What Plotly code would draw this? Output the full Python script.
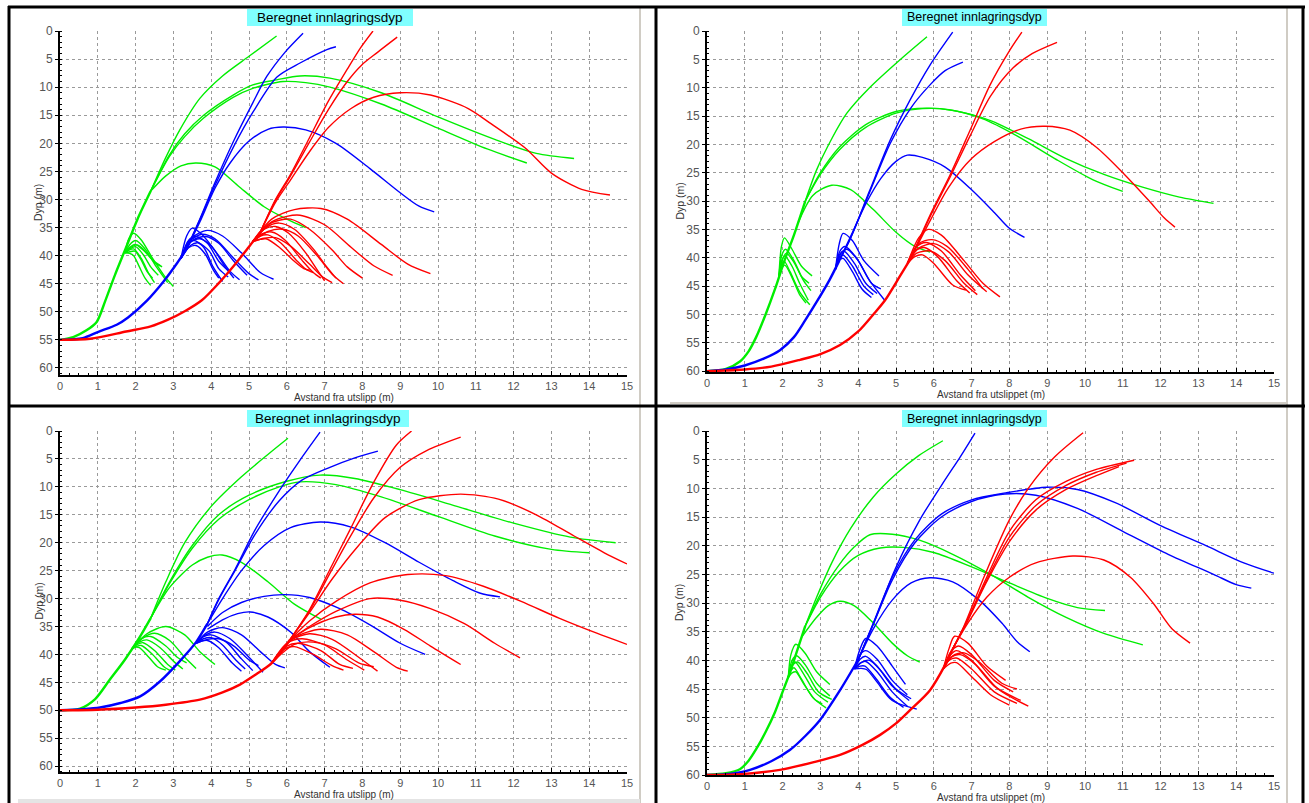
import plotly.graph_objects as go

W, H = 1309, 803
GREEN = "#00EE00"
BLUE = "#0000FF"
RED = "#FF0000"

# ---------------- TOP-LEFT panel data (x: m, y: depth m) ----------------
TL_GREEN_TRUNK = [(0, 55), (0.35, 54.5), (0.7, 53.3), (0.97, 51.8), (1.2, 48), (1.45, 43.5), (1.75, 38.5), (2.05, 33.5), (2.4, 28.5)]
TL_GREEN_BRANCHES = [
    [(2.4, 28.5), (2.8, 22.5), (3.17, 17.6), (3.7, 12.0), (4.3, 8.0), (5.0, 4.5), (5.73, 0.9)],
    [(2.4, 28.5), (2.9, 22), (3.3, 18.3), (3.8, 15), (4.58, 11.4), (5.1, 9.6), (5.73, 8.7), (6.35, 8.0), (7.14, 8.4), (8.5, 11), (10.0, 15.3), (11.5, 19.3), (12.6, 21.8), (13.6, 22.7)],
    [(2.4, 28.5), (2.9, 22.3), (3.3, 18.8), (3.8, 15.5), (4.58, 11.8), (5.1, 10.2), (5.9, 9.0), (6.5, 9.2), (7.14, 10.0), (8.5, 13), (10.0, 17.3), (11.3, 21), (12.35, 23.5)],
    [(2.4, 28.5), (2.8, 25.8), (3.2, 24.0), (3.6, 23.5), (4.1, 24.2), (4.7, 27.5), (5.4, 31.3), (6.0, 33.5), (6.5, 35.0)],
    [(1.72, 39.5), (1.82, 37), (1.95, 36.0), (2.15, 37.2), (2.45, 40.5), (2.75, 43.5), (3.0, 45.5)],
    [(1.72, 39.5), (1.85, 38), (2.0, 37.3), (2.25, 38.8), (2.55, 42), (2.85, 44.8)],
    [(1.72, 39.5), (1.85, 38.5), (1.98, 38.0), (2.2, 39), (2.45, 40.8), (2.7, 42.0)],
    [(1.72, 39.5), (1.85, 38.8), (2.0, 38.4), (2.2, 39.8), (2.4, 42), (2.6, 43.5)],
    [(1.72, 39.5), (1.83, 39), (1.95, 38.8), (2.15, 40.5), (2.35, 43.2), (2.5, 44.8)],
    [(1.72, 39.5), (1.85, 39.3), (1.98, 39.2), (2.15, 40.8), (2.3, 42.8), (2.45, 44.0)],
    [(1.72, 39.5), (1.84, 39.6), (1.95, 40), (2.1, 42), (2.25, 44), (2.4, 45.3)],
    [(1.72, 39.5), (1.9, 38.4), (2.05, 38.1), (2.3, 39.5), (2.5, 41.2), (2.65, 41.8)],
]
TL_BLUE_TRUNK = [(0, 55), (0.6, 54.7), (1.0, 53.6), (1.5, 52.3), (1.8, 51.0), (2.3, 48.0), (2.75, 44.5), (3.1, 41.3), (3.35, 38.8)]
TL_BLUE_BRANCHES = [
    [(3.35, 38.8), (3.7, 33.5), (4.1, 27), (4.6, 19.5), (5.1, 12.8), (5.47, 8.1), (5.95, 3.8), (6.43, 0.4)],
    [(3.35, 38.8), (3.7, 33.6), (4.1, 27.5), (4.6, 20.5), (5.1, 14.5), (5.74, 8.2), (6.35, 5.7), (7.06, 3.3), (7.3, 2.8)],
    [(3.35, 38.8), (3.7, 34), (4.1, 28), (4.5, 23.5), (5.0, 19.6), (5.5, 17.5), (5.9, 17.1), (6.5, 17.6), (7.3, 20), (8.2, 24.5), (9.0, 28.8), (9.5, 31.2), (9.9, 32.2)],
    [(3.2, 40.5), (3.35, 36.5), (3.5, 35.1), (3.75, 36.2), (4.2, 40), (4.5, 42.8), (4.75, 44.3)],
    [(3.2, 40.5), (3.45, 37), (3.9, 35.5), (4.3, 36.5), (4.8, 39.5), (5.3, 43), (5.65, 44.2)],
    [(3.2, 40.5), (3.45, 37.3), (3.75, 36.2), (4.1, 37), (4.6, 40.5), (5.0, 43.2), (5.25, 44.3)],
    [(3.2, 40.5), (3.4, 37.3), (3.6, 36.6), (3.9, 37.8), (4.2, 41), (4.5, 43.0)],
    [(3.2, 40.5), (3.45, 37.6), (3.7, 37.0), (4.0, 38.3), (4.35, 41.8), (4.6, 44.0)],
    [(3.2, 40.5), (3.38, 38), (3.55, 37.3), (3.8, 38.5), (4.05, 42), (4.3, 44.6)],
    [(3.2, 40.5), (3.45, 38.2), (3.65, 37.7), (3.95, 39.2), (4.2, 42.3), (4.45, 43.8)],
    [(3.2, 40.5), (3.4, 38.6), (3.6, 38.2), (3.85, 39.8), (4.05, 42.5), (4.2, 44.0)],
    [(3.2, 40.5), (3.5, 37.3), (3.85, 36.6), (4.2, 37.8), (4.6, 41), (4.95, 43.5)],
]
TL_RED_TRUNK = [(0, 55), (0.8, 54.8), (1.75, 53.5), (2.4, 52.6), (2.86, 51.4), (3.3, 49.9), (3.76, 47.9), (4.2, 44.9), (4.6, 41.8), (5.0, 38.4), (5.3, 35.8)]
TL_RED_BRANCHES = [
    [(5.3, 35.8), (5.7, 30), (6.1, 25.5), (6.6, 19), (7.1, 12.5), (7.6, 6.8), (7.95, 3), (8.28, 0)],
    [(5.3, 35.8), (5.7, 30.2), (6.1, 25.8), (6.6, 19.8), (7.1, 14), (7.6, 9), (7.99, 6.0), (8.4, 3.8), (8.92, 1.1)],
    [(5.3, 35.8), (5.7, 30.5), (6.1, 26.5), (6.6, 21.5), (7.1, 17.2), (7.7, 13.8), (8.3, 11.8), (9.0, 11.0), (9.8, 11.4), (10.8, 13.8), (11.4, 16.5), (12.3, 20.8), (13.0, 25.3), (13.8, 28.2), (14.55, 29.2)],
    [(5.1, 37.5), (5.6, 33.5), (6.2, 31.8), (6.9, 31.6), (7.6, 33.5), (8.5, 38), (9.2, 41.5), (9.8, 43.2)],
    [(5.1, 37.5), (5.6, 34), (6.0, 33), (6.35, 32.8), (7.0, 34.5), (7.7, 38.5), (8.3, 41.8), (8.8, 43.5)],
    [(5.1, 37.5), (5.5, 34.5), (5.8, 33.7), (6.1, 33.5), (6.6, 35.3), (7.2, 39), (7.6, 42), (8.0, 44.0)],
    [(5.1, 37.5), (5.45, 35), (5.8, 34.2), (6.2, 35.3), (6.7, 38.8), (7.0, 41.5), (7.3, 44.0)],
    [(5.1, 37.5), (5.4, 35.3), (5.7, 34.8), (6.05, 36), (6.5, 39.5), (6.8, 42.5), (7.0, 44.5)],
    [(5.1, 37.5), (5.5, 35.7), (5.9, 35.3), (6.3, 36.5), (6.8, 40), (7.2, 43.3), (7.5, 45.0)],
    [(5.1, 37.5), (5.35, 36.1), (5.6, 35.8), (5.95, 37.2), (6.4, 40.8), (6.7, 43), (6.9, 44.0)],
    [(5.1, 37.5), (5.3, 36.5), (5.5, 36.3), (5.85, 37.8), (6.25, 40.8), (6.5, 42.4), (6.7, 43.0)],
    [(5.1, 37.5), (5.4, 36.9), (5.7, 36.8), (6.1, 38.3), (6.6, 41.5), (6.95, 43.8), (7.2, 44.8)],
    [(5.1, 37.5), (5.3, 37.1), (5.45, 37.0), (5.8, 38.5), (6.2, 41), (6.45, 42.3), (6.6, 42.6)],
]

# ---------------- TOP-RIGHT panel data ----------------
TR_GREEN_TRUNK = [(0, 60), (0.5, 59.6), (0.87, 58.3), (1.1, 56.5), (1.3, 54), (1.55, 50), (1.8, 45.5), (2.05, 40.5), (2.3, 36), (2.6, 30)]
TR_GREEN_BRANCHES = [
    [(2.6, 30), (2.9, 24.5), (3.3, 19), (3.7, 14.5), (4.3, 10), (5.1, 5.1), (5.82, 1.0)],
    [(2.6, 30), (3.0, 25), (3.5, 20.5), (4.2, 16.5), (5.0, 14.2), (5.8, 13.6), (6.5, 14), (7.5, 15.8), (8.5, 19), (9.5, 22.5), (10.5, 25.3), (11.5, 27.5), (12.5, 29.3), (13.4, 30.4)],
    [(2.6, 30), (3.0, 25.3), (3.5, 21), (4.2, 17), (5.0, 14.5), (5.7, 13.7), (6.4, 13.9), (7.3, 15.5), (8.2, 18.5), (9.2, 22.5), (10.2, 26.2), (11.0, 28.3)],
    [(2.4, 34), (2.8, 29), (3.3, 27.2), (3.8, 28), (4.4, 31.5), (5.0, 35.5), (5.5, 38), (5.9, 39.0)],
    [(1.9, 43.5), (1.97, 38), (2.05, 36.5), (2.25, 38.5), (2.5, 41.5), (2.78, 43.2)],
    [(1.9, 43.5), (1.98, 39.5), (2.08, 38.5), (2.3, 40.5), (2.55, 44), (2.75, 45.8)],
    [(1.9, 43.5), (1.98, 40.5), (2.06, 39.7), (2.25, 41.5), (2.45, 44.5), (2.68, 47.5)],
    [(1.9, 43.5), (1.97, 41.3), (2.04, 40.6), (2.2, 42.5), (2.45, 46), (2.72, 48.3)],
    [(1.9, 43.5), (1.98, 41.8), (2.06, 41.3), (2.25, 43.5), (2.45, 46.5), (2.62, 48.0)],
    [(1.9, 43.5), (2.0, 40.2), (2.1, 39.2), (2.3, 40.8), (2.5, 43.3), (2.7, 44.5)],
]
TR_BLUE_TRUNK = [(0, 60), (0.5, 59.7), (1.0, 59.0), (1.5, 57.8), (1.93, 56.3), (2.3, 54), (2.6, 51), (2.9, 47.8), (3.25, 43.8), (3.5, 40.5)]
TR_BLUE_BRANCHES = [
    [(3.5, 40.5), (3.8, 36.5), (4.3, 28.2), (4.85, 19.2), (5.37, 12.2), (5.9, 6.0), (6.5, 0.2)],
    [(3.5, 40.5), (3.8, 36.5), (4.3, 28.5), (4.85, 19.8), (5.4, 13.5), (5.9, 9.5), (6.3, 7.0), (6.77, 5.5)],
    [(3.5, 40.5), (3.85, 35.5), (4.2, 30.5), (4.6, 26), (5.0, 23), (5.3, 21.9), (5.7, 22.3), (6.3, 24), (7.0, 28), (7.6, 32), (8.0, 34.8), (8.4, 36.4)],
    [(3.4, 42), (3.5, 37.5), (3.6, 35.7), (3.85, 37), (4.15, 40.5), (4.55, 43.2)],
    [(3.4, 42), (3.52, 38.8), (3.65, 38.0), (3.95, 40), (4.3, 44), (4.7, 47.5)],
    [(3.4, 42), (3.5, 39.5), (3.62, 38.8), (3.9, 41), (4.2, 44.5), (4.5, 46.3)],
    [(3.4, 42), (3.5, 40), (3.6, 39.5), (3.85, 41.5), (4.15, 45), (4.4, 46.5)],
    [(3.4, 42), (3.55, 39.2), (3.7, 38.5), (4.0, 40.5), (4.35, 44.5), (4.6, 45.5)],
    [(3.4, 42), (3.5, 40.5), (3.6, 40.1), (3.85, 42.5), (4.1, 45.5), (4.35, 47.0)],
]
TR_RED_TRUNK = [(0, 60), (1.0, 59.7), (1.7, 59.2), (2.46, 58), (3.0, 57), (3.52, 55.4), (4.0, 53), (4.4, 50), (4.71, 47.5), (5.1, 43.3), (5.4, 40)]
TR_RED_BRANCHES = [
    [(5.4, 40), (5.9, 32.5), (6.43, 25.4), (6.96, 17.5), (7.49, 9.5), (8.0, 3.5), (8.33, 0.2)],
    [(5.4, 40), (5.9, 32.8), (6.43, 25.8), (6.96, 18.5), (7.5, 11.5), (8.1, 6.5), (8.6, 4.0), (9.26, 2.0)],
    [(5.4, 40), (5.9, 33.5), (6.4, 27.5), (7.0, 22.5), (7.6, 19.5), (8.3, 17.3), (8.94, 16.8), (9.6, 17.5), (10.3, 20.5), (11.0, 25), (11.7, 30), (12.1, 33), (12.38, 34.6)],
    [(5.3, 41), (5.6, 36.5), (5.85, 35.0), (6.2, 36), (6.8, 40.5), (7.3, 44.5), (7.75, 46.9)],
    [(5.3, 41), (5.6, 37.5), (5.95, 36.8), (6.35, 38), (6.9, 42), (7.3, 45.5)],
    [(5.3, 41), (5.55, 38), (5.8, 37.3), (6.2, 38.8), (6.7, 43), (7.1, 45.8)],
    [(5.3, 41), (5.6, 38.3), (6.0, 37.5), (6.4, 39), (6.9, 43), (7.4, 46.0)],
    [(5.3, 41), (5.5, 38.8), (5.75, 38.2), (6.1, 39.8), (6.6, 44), (6.95, 46.2)],
    [(5.3, 41), (5.55, 39.2), (5.9, 38.8), (6.3, 40.5), (6.8, 44.5), (7.15, 46.5)],
    [(5.3, 41), (5.5, 39.8), (5.7, 39.5), (6.0, 41), (6.5, 44.8), (6.85, 45.7)],
]

# ---------------- BOTTOM-LEFT panel data ----------------
BL_GREEN_TRUNK = [(0, 50), (0.53, 49.7), (0.93, 48), (1.32, 44.5), (1.72, 40.9), (2.1, 37), (2.4, 33.5)]
BL_GREEN_BRANCHES = [
    [(2.4, 33.5), (2.8, 27), (3.3, 20), (4.0, 13.5), (4.8, 8.2), (5.5, 4.2), (6.03, 1.3)],
    [(2.4, 33.5), (2.9, 27), (3.5, 20.5), (4.2, 15), (5.0, 11.5), (6.0, 9), (6.88, 7.9), (7.8, 8.5), (9.0, 10.5), (10.5, 13.5), (12, 16.5), (13.5, 19), (14.7, 20.0)],
    [(2.4, 33.5), (2.9, 27.3), (3.5, 21), (4.2, 15.8), (5.0, 12.3), (5.8, 10), (6.35, 9.1), (7.3, 9.6), (8.5, 11.8), (10, 15.3), (11.5, 18.8), (13, 21.2), (14.0, 21.8)],
    [(2.4, 33.5), (2.9, 28), (3.5, 24), (3.9, 22.6), (4.29, 22.2), (4.8, 23.5), (5.5, 27), (6.2, 31), (6.9, 33.7)],
    [(1.9, 39), (2.3, 36.3), (2.8, 35.0), (3.3, 36.5), (3.7, 39.5), (4.1, 41.8)],
    [(1.9, 39), (2.2, 37), (2.5, 36.2), (2.9, 37.5), (3.3, 40.5), (3.6, 42.5)],
    [(1.9, 39), (2.1, 37.8), (2.3, 37.4), (2.65, 38.8), (3.0, 41.2), (3.25, 42.6)],
    [(1.9, 39), (2.05, 38.2), (2.2, 37.9), (2.5, 39.3), (2.85, 41.8), (3.05, 42.8)],
    [(1.9, 39), (2.05, 38.5), (2.15, 38.4), (2.45, 40), (2.75, 42.2), (2.95, 43.0)],
    [(1.9, 39), (2.0, 38.7), (2.1, 38.8), (2.35, 40.5), (2.6, 42.3), (2.8, 42.8)],
    [(1.9, 39), (2.15, 37.2), (2.4, 36.8), (2.8, 38.5), (3.1, 40.5), (3.35, 41.5)],
]
BL_BLUE_TRUNK = [(0, 50), (0.6, 49.8), (1.06, 49.5), (1.6, 48.7), (2.12, 47.5), (2.65, 44.8), (3.17, 41.2), (3.6, 37.8), (3.9, 34.5)]
BL_BLUE_BRANCHES = [
    [(3.9, 34.5), (4.2, 30), (4.63, 24.8), (5.16, 17.7), (5.82, 10.5), (6.35, 5.2), (6.88, 0.2)],
    [(3.9, 34.5), (4.2, 30.2), (4.63, 25), (5.16, 18.5), (5.8, 12.5), (6.4, 8.8), (7.14, 6.5), (7.8, 4.8), (8.41, 3.6)],
    [(3.9, 34.5), (4.3, 30), (4.8, 25), (5.4, 20.5), (6.1, 17.3), (6.88, 16.3), (7.7, 17.2), (8.6, 20), (9.5, 23.5), (10.4, 26.8), (11.1, 29), (11.64, 29.7)],
    [(3.9, 35), (4.3, 32.5), (4.8, 30.7), (5.4, 29.6), (5.95, 29.3), (6.6, 29.8), (7.4, 31.8), (8.2, 34.7), (9.0, 38), (9.66, 40.0)],
    [(3.9, 35.5), (4.3, 33.8), (4.7, 32.7), (5.03, 32.4), (5.5, 33.3), (6.1, 36), (6.6, 39.5), (7.14, 42.3)],
    [(3.6, 38), (3.9, 36), (4.3, 35.2), (4.8, 36.5), (5.3, 39.5), (5.7, 41.8), (5.95, 42.4)],
    [(3.6, 38), (3.85, 36.5), (4.1, 36.0), (4.5, 37.2), (5.0, 40.5), (5.37, 43.2)],
    [(3.6, 38), (3.8, 36.8), (4.0, 36.5), (4.4, 37.8), (4.8, 40.8), (5.1, 42.9)],
    [(3.6, 38), (3.8, 37.2), (4.0, 37.0), (4.3, 38.3), (4.65, 41), (4.9, 42.6)],
    [(3.6, 38), (3.75, 37.6), (3.9, 37.5), (4.2, 38.8), (4.55, 41.5), (4.8, 43.0)],
    [(3.6, 38), (3.9, 37.3), (4.2, 37.2), (4.6, 38.5), (5.0, 41), (5.25, 42.0)],
]
BL_RED_TRUNK = [(0, 50), (1.0, 49.9), (2.0, 49.5), (2.8, 49.0), (3.7, 48.1), (4.3, 46.8), (4.76, 45.4), (5.2, 43.5), (5.56, 41.8), (5.8, 40), (6.08, 37.4)]
BL_RED_BRANCHES = [
    [(6.08, 37.4), (6.6, 32), (7.14, 24.8), (7.67, 17.7), (8.33, 8.8), (8.9, 2.5), (9.3, 0)],
    [(6.08, 37.4), (6.6, 32.2), (7.14, 25.5), (7.67, 19), (8.3, 12), (9.0, 6.5), (9.7, 3.5), (10.6, 1.1)],
    [(6.08, 37.4), (6.6, 32.5), (7.2, 26.5), (7.9, 20.5), (8.6, 15.5), (9.5, 12.3), (10.6, 11.3), (11.6, 12.2), (12.6, 15), (13.6, 18.8), (14.4, 21.8), (15, 23.8)],
    [(6.08, 37.4), (6.6, 34), (7.3, 30.5), (8.2, 27.2), (9.2, 25.7), (10.2, 25.9), (11.2, 27.8), (12.2, 30.5), (13.2, 33.5), (14.2, 36.2), (15, 38.2)],
    [(6.08, 37.4), (6.6, 35), (7.3, 32.3), (8.2, 30.0), (9.0, 30.3), (9.8, 31.8), (10.7, 34.5), (11.5, 38), (12.17, 40.6)],
    [(6.08, 37.4), (6.6, 35.2), (7.3, 33.3), (7.8, 32.8), (8.4, 33.3), (9.1, 35.5), (9.8, 38.5), (10.6, 41.8)],
    [(5.6, 41.5), (6.2, 37), (6.9, 35.5), (7.6, 36.5), (8.3, 39.5), (8.9, 42.3), (9.2, 43.0)],
    [(5.6, 41.5), (6.1, 37.5), (6.6, 36.3), (7.2, 37.3), (7.9, 40.5), (8.4, 43.0)],
    [(5.6, 41.5), (6.0, 38), (6.4, 37.2), (7.0, 38.3), (7.6, 41), (8.05, 42.8)],
    [(5.6, 41.5), (6.0, 38.5), (6.3, 38), (6.9, 39.3), (7.4, 41.8), (7.75, 42.5)],
    [(5.6, 41.5), (6.2, 38.2), (6.7, 37.8), (7.3, 39), (7.9, 41.5), (8.3, 42.2)],
    [(5.6, 41.5), (5.95, 39), (6.2, 38.6), (6.7, 40), (7.2, 42), (7.5, 42.8)],
]

# ---------------- BOTTOM-RIGHT panel data ----------------
BR_GREEN_TRUNK = [(0, 60), (0.5, 59.7), (0.87, 59.0), (1.1, 57.5), (1.3, 55.5), (1.55, 52.5), (1.8, 49), (2.0, 45.5), (2.2, 42), (2.4, 38), (2.6, 34)]
BR_GREEN_BRANCHES = [
    [(2.6, 34), (2.9, 29), (3.3, 23), (3.8, 17), (4.4, 11.5), (5.0, 7.5), (5.6, 4.3), (6.24, 1.7)],
    [(2.6, 34), (3.0, 28.5), (3.5, 23.3), (3.9, 20.2), (4.31, 18.1), (4.9, 18), (5.6, 19), (6.5, 21.5), (7.5, 25), (8.5, 29), (9.5, 32.5), (10.5, 35.3), (11.53, 37.3)],
    [(2.6, 34), (3.0, 29), (3.5, 24.5), (4.0, 21.7), (4.58, 20.4), (5.2, 20.3), (6.0, 21.2), (7.0, 23.7), (8.0, 26.5), (9.0, 29.2), (9.8, 30.8), (10.53, 31.3)],
    [(2.5, 36), (2.9, 32.5), (3.2, 30.5), (3.52, 29.7), (3.9, 30.5), (4.4, 33.5), (4.9, 37), (5.3, 39.2), (5.63, 40.3)],
    [(2.15, 43), (2.22, 39), (2.35, 37.2), (2.6, 38.8), (2.9, 42), (3.25, 44.2)],
    [(2.15, 43), (2.25, 40), (2.37, 39.2), (2.6, 40.8), (2.9, 44), (3.25, 46.2)],
    [(2.15, 43), (2.23, 41), (2.33, 40.3), (2.55, 42.3), (2.85, 45.5), (3.2, 47.3)],
    [(2.15, 43), (2.22, 41.8), (2.3, 41.3), (2.5, 43.3), (2.8, 46.5), (3.15, 48.3)],
    [(2.15, 43), (2.25, 42.2), (2.35, 42), (2.55, 44), (2.85, 46.8), (3.05, 47.6)],
    [(2.15, 43), (2.27, 40.8), (2.4, 40.3), (2.65, 42.3), (2.95, 45.5), (3.3, 46.8)],
]
BR_BLUE_TRUNK = [(0, 60), (0.6, 59.8), (1.14, 59.1), (1.7, 57.6), (2.2, 55.6), (2.6, 53.2), (2.99, 50.4), (3.52, 45.2), (4.0, 39.9)]
BR_BLUE_BRANCHES = [
    [(4.0, 39.9), (4.44, 33), (4.97, 24.2), (5.63, 15.5), (6.3, 8.5), (6.7, 4.5), (7.09, 0.35)],
    [(4.0, 39.9), (4.4, 33.5), (4.9, 25.5), (5.5, 19), (6.2, 14.5), (7.0, 12), (7.9, 10.8), (8.99, 9.8), (9.8, 10.2), (10.8, 12.5), (12, 16.5), (13.2, 20), (14.2, 23), (15, 24.8)],
    [(4.0, 39.9), (4.4, 33.7), (4.9, 26), (5.5, 19.5), (6.2, 15), (7.0, 12.3), (7.88, 11), (8.7, 11.2), (9.8, 13.5), (11, 17.5), (12.2, 21.5), (13.4, 25), (14.0, 26.8), (14.4, 27.4)],
    [(4.0, 39.9), (4.4, 34.5), (4.9, 29.5), (5.4, 26.5), (5.9, 25.6), (6.5, 26.3), (7.2, 29.5), (7.8, 33.5), (8.2, 36.7), (8.54, 38.5)],
    [(3.9, 41.5), (4.05, 38), (4.2, 36.2), (4.5, 37.5), (4.9, 41), (5.25, 44.2)],
    [(3.9, 41.5), (4.05, 39), (4.2, 38.3), (4.5, 39.8), (4.9, 43.5), (5.3, 46.0)],
    [(3.9, 41.5), (4.05, 39.8), (4.2, 39.3), (4.5, 41), (4.9, 44.5), (5.35, 47.0)],
    [(3.9, 41.5), (4.05, 40.5), (4.2, 40.2), (4.5, 42), (4.9, 45.5), (5.3, 48.0)],
    [(3.9, 41.5), (4.05, 41), (4.18, 41), (4.45, 43), (4.85, 46.5), (5.2, 48.2)],
    [(3.9, 41.5), (4.1, 40.3), (4.3, 40), (4.6, 41.8), (5.0, 45), (5.4, 46.7)],
    [(3.9, 41.5), (4.08, 41.4), (4.22, 41.6), (4.5, 43.8), (4.9, 47), (5.55, 48.5)],
]
BR_RED_TRUNK = [(0, 60), (1.0, 59.8), (1.93, 59.1), (2.8, 57.8), (3.52, 56.5), (4.1, 54.8), (4.58, 53), (5.0, 51), (5.37, 48.7), (5.9, 45.2), (6.3, 40.8), (6.5, 38)]
BR_RED_BRANCHES = [
    [(6.5, 38), (6.8, 34), (7.35, 25.1), (8.0, 15.5), (8.5, 10), (9.2, 4.5), (9.95, 0.3)],
    [(6.5, 38), (6.85, 33.5), (7.4, 25.5), (8.0, 17.5), (8.7, 12), (9.5, 8.8), (10.3, 6.7), (11.3, 5.1)],
    [(6.5, 38), (6.85, 33.6), (7.4, 26), (8.0, 18.5), (8.7, 13), (9.5, 9.5), (10.3, 7.2), (11.1, 5.6)],
    [(6.5, 38), (6.85, 33.7), (7.4, 26.3), (8.0, 19.3), (8.7, 13.8), (9.5, 10.2), (10.3, 7.8), (10.9, 6.2)],
    [(6.5, 38), (6.9, 33.5), (7.4, 29), (8.0, 25.5), (8.7, 23), (9.68, 21.8), (10.5, 22.5), (11.2, 25.5), (11.8, 30), (12.3, 34.5), (12.78, 37)],
    [(6.25, 41.5), (6.4, 38), (6.55, 35.8), (6.9, 37), (7.4, 41), (7.9, 43.5)],
    [(6.25, 41.5), (6.45, 38.5), (6.65, 37.5), (7.0, 39), (7.6, 43.5), (8.1, 45.5)],
    [(6.25, 41.5), (6.45, 39), (6.6, 38.3), (7.0, 40), (7.6, 44.5), (8.3, 47.0)],
    [(6.25, 41.5), (6.45, 39.5), (6.7, 39.0), (7.1, 40.7), (7.7, 45), (8.5, 48.0)],
    [(6.25, 41.5), (6.4, 40), (6.6, 39.6), (7.0, 41.5), (7.6, 45.5), (8.2, 47.5)],
    [(6.25, 41.5), (6.5, 39.2), (6.8, 38.7), (7.2, 40.3), (7.8, 44), (8.2, 45.0)],
    [(6.25, 41.5), (6.45, 40.5), (6.6, 40.4), (6.95, 42.5), (7.5, 46), (8.0, 47.8)],
]

TITLE = "Beregnet innlagringsdyp"
XTITLE_LEFT = "Avstand fra utslipp (m)"
XTITLE_RIGHT = "Avstand fra utslippet (m)"
YTITLE = "Dyp (m)"
X_RANGE = (0, 15)

# panel layout (pixel geometry)
PANELS = [
    dict(px=(60, 627), py=(31, 375), ymax=61.25, xt=XTITLE_LEFT, box=(247, 9, 413, 26), tfs=13.5, ytx=38,
         data=[(GREEN, TL_GREEN_TRUNK, TL_GREEN_BRANCHES), (BLUE, TL_BLUE_TRUNK, TL_BLUE_BRANCHES), (RED, TL_RED_TRUNK, TL_RED_BRANCHES)]),
    dict(px=(707, 1274), py=(31, 372), ymax=60.15, xt=XTITLE_RIGHT, box=(902, 9, 1047, 26), tfs=12.5, ytx=679,
         data=[(GREEN, TR_GREEN_TRUNK, TR_GREEN_BRANCHES), (BLUE, TR_BLUE_TRUNK, TR_BLUE_BRANCHES), (RED, TR_RED_TRUNK, TR_RED_BRANCHES)]),
    dict(px=(60, 627), py=(431, 772), ymax=61.05, xt=XTITLE_LEFT, box=(247, 410, 409, 427), tfs=13.5, ytx=38,
         data=[(GREEN, BL_GREEN_TRUNK, BL_GREEN_BRANCHES), (BLUE, BL_BLUE_TRUNK, BL_BLUE_BRANCHES), (RED, BL_RED_TRUNK, BL_RED_BRANCHES)]),
    dict(px=(707, 1274), py=(431, 775), ymax=60.0, xt=XTITLE_RIGHT, box=(902, 410, 1047, 427), tfs=12.5, ytx=679,
         data=[(GREEN, BR_GREEN_TRUNK, BR_GREEN_BRANCHES), (BLUE, BR_BLUE_TRUNK, BR_BLUE_BRANCHES), (RED, BR_RED_TRUNK, BR_RED_BRANCHES)]),
]

FONT = "Liberation Sans, Arial, sans-serif"


def fx(p):
    return p / W


def fy(p):
    return 1 - p / H


fig = go.Figure()
layout = dict(width=W, height=H, margin=dict(l=0, r=0, t=0, b=0, pad=0), autosize=False,
              paper_bgcolor="white", plot_bgcolor="white", showlegend=False, template="none",
              font=dict(family=FONT, size=12, color="#555555"))
shapes = []
annotations = []

for i, p in enumerate(PANELS, start=1):
    xa = "x" if i == 1 else f"x{i}"
    ya = "y" if i == 1 else f"y{i}"
    for color, trunk, branches in p["data"]:
        fig.add_trace(go.Scatter(x=[q[0] for q in trunk], y=[q[1] for q in trunk], mode="lines",
                                 line=dict(color=color, width=2.4, shape="spline", smoothing=0.8),
                                 xaxis=xa, yaxis=ya, hoverinfo="skip"))
        for b in branches:
            fig.add_trace(go.Scatter(x=[q[0] for q in b], y=[q[1] for q in b], mode="lines",
                                     line=dict(color=color, width=1.4, shape="spline", smoothing=0.8),
                                     xaxis=xa, yaxis=ya, hoverinfo="skip"))
    common = dict(showgrid=True, gridcolor="#9A9A9A", griddash="dot", gridwidth=1, automargin=False,
                  showline=True, linecolor="black", linewidth=2,
                  tickcolor="black", zeroline=False)
    layout["xaxis" + ("" if i == 1 else str(i))] = dict(
        domain=[fx(p["px"][0]), fx(p["px"][1])], range=list(X_RANGE), dtick=1, tick0=0,
        anchor=ya, ticks="inside", ticklen=4,
        tickfont=dict(family=FONT, size=11, color="#555555"),
        minor=dict(dtick=0.25, ticks="inside", ticklen=2, tickcolor="black", showgrid=False),
        **common)
    layout["yaxis" + ("" if i == 1 else str(i))] = dict(
        domain=[fy(p["py"][1]), fy(p["py"][0])], range=[p["ymax"], 0], dtick=5, tick0=0,
        anchor=xa, ticks="outside", ticklen=3,
        tickfont=dict(family=FONT, size=12, color="#555555"),
        minor=dict(dtick=1, ticks="inside", ticklen=2, tickcolor="black", showgrid=False),
        **common)
    bx0, by0, bx1, by1 = p["box"]
    shapes.append(dict(type="rect", xref="paper", yref="paper", x0=fx(bx0), x1=fx(bx1), y0=fy(by1), y1=fy(by0),
                       fillcolor="#80FFFF", line=dict(width=0), layer="above"))
    annotations.append(dict(xref="paper", yref="paper", x=fx((bx0 + bx1) / 2), y=fy((by0 + by1) / 2),
                            text=TITLE, showarrow=False, xanchor="center", yanchor="middle",
                            font=dict(family=FONT, size=p["tfs"], color="black")))
    cx = (p["px"][0] + p["px"][1]) / 2
    annotations.append(dict(xref="paper", yref="paper", x=fx(cx), y=fy(p["py"][1] + 15),
                            text=p["xt"], showarrow=False, xanchor="center", yanchor="top",
                            font=dict(family=FONT, size=10, color="#333333")))
    cy = (p["py"][0] + p["py"][1]) / 2
    annotations.append(dict(xref="paper", yref="paper", x=fx(p["ytx"]), y=fy(cy),
                            text=YTITLE, showarrow=False, textangle=-90, xanchor="center", yanchor="middle",
                            font=dict(family=FONT, size=10.5, color="#333333")))


def vline(x, y0, y1, color, width):
    shapes.append(dict(type="line", xref="paper", yref="paper", x0=fx(x), x1=fx(x), y0=fy(y0), y1=fy(y1),
                       line=dict(color=color, width=width), layer="above"))


def hline(y, x0, x1, color, width):
    shapes.append(dict(type="line", xref="paper", yref="paper", x0=fx(x0), x1=fx(x1), y0=fy(y), y1=fy(y),
                       line=dict(color=color, width=width), layer="above"))


vline(640, 8, 803, "#D0CCC4", 2)
vline(1287, 8, 803, "#D0CCC4", 2)
hline(403, 670, 1286, "#D0CCC4", 2)
hline(801, 18, 640, "#E4E4E4", 4)
vline(9, 6, 803, "black", 3)
vline(656, 6, 803, "black", 3)
vline(1303, 6, 803, "black", 3)
hline(7, 8, 1305, "black", 3)
hline(406, 8, 1305, "black", 3)

layout["shapes"] = shapes
layout["annotations"] = annotations
fig.update_layout(**layout)
fig.write_html("out.html", config={"displayModeBar": False},
               post_script="document.body.style.margin='0';document.body.style.overflow='hidden';"
                           "document.documentElement.style.overflow='hidden';")
